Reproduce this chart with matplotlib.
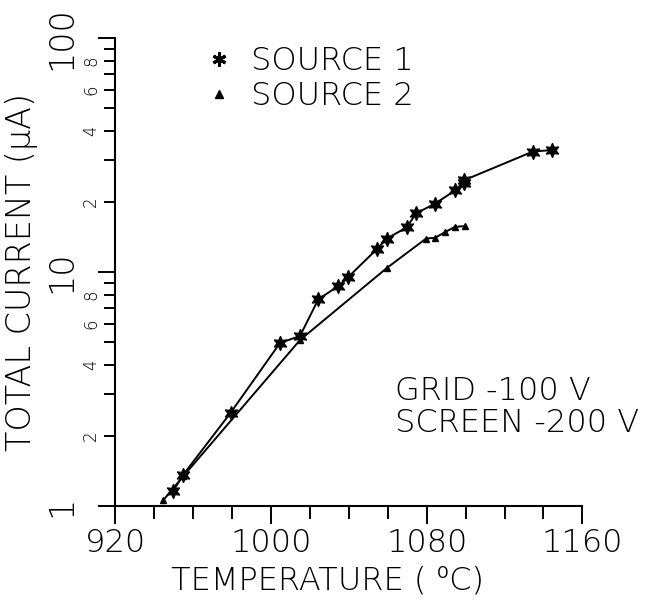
"""Total emission current vs. temperature for two sources (log scale)."""

import matplotlib

matplotlib.use("Agg")
import matplotlib.pyplot as plt
from matplotlib.lines import Line2D
from matplotlib.ticker import FixedLocator, FixedFormatter

plt.rcParams["font.family"] = ["DejaVu Sans"]
plt.rcParams["font.weight"] = "light"
plt.rcParams["axes.labelweight"] = "light"

# source 1 (stars)
temp_s1 = [949.8, 954.9, 979.2, 1004.6, 1014.9, 1024.3, 1034.6, 1039.7, 1054.3,
           1059.5, 1069.7, 1074.5, 1084.3, 1094.6, 1098.9, 1099.4, 1134.5, 1144.3]
cur_s1 = [1.16, 1.36, 2.50, 4.97, 5.33, 7.64, 8.71, 9.52, 12.5,
          13.9, 15.5, 17.8, 19.6, 22.3, 24.0, 24.7, 32.7, 33.2]

# source 2 (triangles)
temp_s2 = [944.7, 954.9, 1014.9, 1059.5, 1079.7, 1084.3, 1089.4, 1094.6, 1099.7]
cur_s2 = [1.06, 1.34, 5.12, 10.4, 13.9, 14.0, 14.8, 15.6, 15.7]

x_major = [920, 1000, 1080, 1160]
x_minor = [940, 960, 980, 1020, 1040, 1060, 1100, 1120, 1140]
y_major = [1, 10, 100]
y_major_labels = ["1", "10", "100"]
y_minor = [2, 3, 4, 5, 6, 7, 8, 9, 20, 30, 40, 50, 60, 70, 80, 90]
y_minor_labels = ["2", "", "4", "", "6", "", "8", "",
                  "2", "", "4", "", "6", "", "8", ""]

series_labels = ["SOURCE 1", "SOURCE 2"]
note_lines = ["GRID -100 V", "SCREEN -200 V"]

BIG = 23
STAR = (6, 1, 0)

fig = plt.figure(figsize=(6.67, 6.0), dpi=100)
ax = fig.add_axes([0.1729, 0.1567, 0.7003, 0.78])

ax.plot(temp_s1, cur_s1, color="black", linewidth=1.4, marker=STAR,
        markersize=10.5, markeredgewidth=0.8)
ax.plot(temp_s2, cur_s2, color="black", linewidth=1.4, marker="^",
        markersize=5)

ax.set_yscale("log")
ax.set_xlim(920, 1160)
ax.set_ylim(1, 100)

for side in ("top", "right"):
    ax.spines[side].set_visible(False)
for side in ("left", "bottom"):
    ax.spines[side].set_linewidth(1.5)

ax.xaxis.set_major_locator(FixedLocator(x_major))
ax.xaxis.set_minor_locator(FixedLocator(x_minor))
ax.yaxis.set_major_locator(FixedLocator(y_major))
ax.yaxis.set_major_formatter(FixedFormatter(y_major_labels))
ax.yaxis.set_minor_locator(FixedLocator(y_minor))
ax.yaxis.set_minor_formatter(FixedFormatter(y_minor_labels))

ax.tick_params(axis="x", which="major", direction="out", length=13, width=1.4,
               labelsize=BIG, pad=3)
ax.tick_params(axis="x", which="minor", direction="out", length=9, width=1.4)
ax.tick_params(axis="y", which="major", direction="out", length=12, width=1.4,
               labelsize=24, pad=15, labelrotation=90)
ax.tick_params(axis="y", which="minor", direction="out", length=8, width=1.4,
               labelsize=12, pad=3, labelrotation=90)
for lab in ax.get_yticklabels(which="both"):
    lab.set_verticalalignment("center")

ax.set_xlabel("TEMPERATURE ( \u2070C)", fontsize=BIG, fontweight="light")
ax.xaxis.set_label_coords(0.455, -0.128)
ax.set_ylabel("TOTAL CURRENT (\u03bcA)", fontsize=24, fontweight="light")
ax.yaxis.set_label_coords(-0.165, 0.5)

handles = [
    Line2D([], [], linestyle="none", color="black", marker=(6, 2, 0),
           markersize=10, markeredgewidth=2.2),
    Line2D([], [], linestyle="none", color="black", marker="^", markersize=6),
]
ax.legend(handles, series_labels, loc="upper left", bbox_to_anchor=(0.188, 0.983),
          frameon=False, fontsize=BIG, handlelength=1.0, handletextpad=0.5,
          labelspacing=0.15, borderpad=0, borderaxespad=0)

ax.text(0.599, 0.2265, note_lines[0], transform=ax.transAxes, fontsize=BIG,
        va="baseline", ha="left")
ax.text(0.599, 0.158, note_lines[1], transform=ax.transAxes, fontsize=BIG,
        va="baseline", ha="left")

fig.savefig("out.png", dpi=100)
